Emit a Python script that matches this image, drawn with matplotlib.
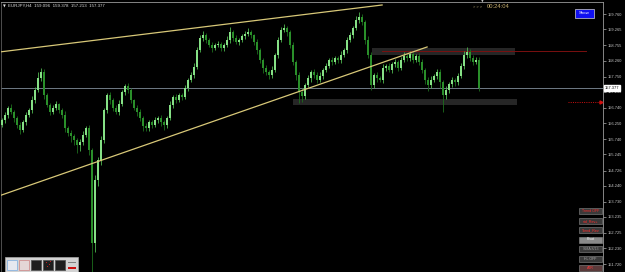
import numpy as np
import matplotlib.pyplot as plt
from matplotlib.patches import Rectangle

W, H = 625, 272

# EURJPY H4 closes (open = previous close)
first_open = 156.20
close = np.array([
    156.35, 156.51, 156.74, 156.61, 156.41, 156.19, 156.03, 156.29, 156.51, 156.67,
    156.99, 157.32, 157.70, 157.89, 157.15, 156.83, 156.61, 156.74, 156.86, 156.67,
    156.51, 156.09, 155.93, 155.84, 155.71, 155.55, 155.64, 155.87, 156.09, 155.39,
    152.40, 154.42, 155.06, 155.71, 156.67, 157.15, 156.99, 156.74, 156.61, 156.86,
    157.25, 157.44, 157.32, 156.99, 156.74, 156.61, 156.41, 156.16, 156.09, 156.29,
    156.19, 156.35, 156.41, 156.29, 156.19, 156.41, 156.83, 157.09, 156.99, 157.15,
    157.09, 157.38, 157.64, 157.80, 158.06, 158.60, 158.99, 159.08, 158.92, 158.76,
    158.67, 158.76, 158.79, 158.67, 158.76, 158.92, 159.18, 158.99, 158.86, 158.92,
    159.05, 159.12, 159.18, 159.08, 158.86, 158.60, 158.28, 158.02, 157.89, 157.80,
    157.96, 158.44, 158.92, 159.25, 159.31, 159.18, 158.76, 158.22, 157.80, 157.25,
    157.12, 157.48, 157.70, 157.89, 157.80, 157.64, 157.77, 157.96, 158.09, 158.28,
    158.22, 158.34, 158.28, 158.44, 158.60, 158.92, 159.08, 159.31, 159.57, 159.66,
    159.50, 158.92, 158.44, 157.48, 157.80, 157.70, 157.64, 158.02, 158.09, 157.96,
    158.15, 158.22, 158.02, 158.28, 158.41, 158.34, 158.47, 158.28, 158.41, 158.22,
    157.96, 157.64, 157.48, 157.64, 157.77, 157.89, 157.57, 157.15, 157.32, 157.51,
    157.64, 157.57, 157.77, 158.09, 158.44, 158.54, 158.34, 158.22, 158.28, 157.377,
])
upper_wick = np.array([
    0.08, 0.10, 0.06, 0.12, 0.05, 0.07, 0.09, 0.06, 0.10, 0.08,
    0.12, 0.09, 0.18, 0.13, 0.10, 0.07, 0.06, 0.09, 0.11, 0.05,
    0.08, 0.12, 0.06, 0.10, 0.07, 0.05, 0.09, 0.12, 0.08, 0.10,
    0.05, 0.15, 0.10, 0.12, 0.08, 0.07, 0.10, 0.06, 0.09, 0.12,
    0.08, 0.06, 0.10, 0.07, 0.05, 0.09, 0.08, 0.06, 0.11, 0.07,
    0.06, 0.09, 0.08, 0.10, 0.05, 0.07, 0.12, 0.06, 0.09, 0.08,
    0.07, 0.10, 0.06, 0.08, 0.12, 0.09, 0.10, 0.14, 0.08, 0.06,
    0.09, 0.07, 0.10, 0.06, 0.08, 0.12, 0.15, 0.07, 0.09, 0.06,
    0.08, 0.10, 0.12, 0.07, 0.05, 0.09, 0.06, 0.08, 0.10, 0.07,
    0.12, 0.08, 0.10, 0.09, 0.14, 0.06, 0.08, 0.10, 0.07, 0.09,
    0.12, 0.07, 0.10, 0.06, 0.09, 0.08, 0.11, 0.07, 0.09, 0.06,
    0.10, 0.07, 0.08, 0.12, 0.06, 0.09, 0.10, 0.08, 0.12, 0.16,
    0.10, 0.08, 0.12, 0.09, 0.07, 0.10, 0.08, 0.12, 0.06, 0.09,
    0.08, 0.10, 0.07, 0.09, 0.12, 0.06, 0.10, 0.08, 0.07, 0.09,
    0.10, 0.06, 0.08, 0.12, 0.07, 0.09, 0.10, 0.08, 0.11, 0.06,
    0.09, 0.07, 0.10, 0.08, 0.12, 0.15, 0.08, 0.10, 0.09, 0.10,
])
lower_wick = np.array([
    0.07, 0.09, 0.10, 0.06, 0.11, 0.08, 0.12, 0.07, 0.09, 0.06,
    0.08, 0.10, 0.07, 0.09, 0.12, 0.06, 0.10, 0.08, 0.07, 0.09,
    0.10, 0.12, 0.08, 0.20, 0.15, 0.25, 0.18, 0.10, 0.08, 0.15,
    1.10, 0.30, 0.20, 0.15, 0.10, 0.08, 0.12, 0.09, 0.07, 0.10,
    0.06, 0.08, 0.10, 0.09, 0.07, 0.12, 0.10, 0.15, 0.08, 0.09,
    0.10, 0.07, 0.09, 0.12, 0.15, 0.08, 0.06, 0.10, 0.09, 0.07,
    0.08, 0.06, 0.09, 0.07, 0.10, 0.08, 0.06, 0.09, 0.10, 0.07,
    0.12, 0.08, 0.06, 0.10, 0.09, 0.07, 0.08, 0.10, 0.06, 0.09,
    0.07, 0.09, 0.06, 0.08, 0.10, 0.12, 0.09, 0.15, 0.10, 0.12,
    0.09, 0.07, 0.10, 0.06, 0.08, 0.12, 0.10, 0.09, 0.15, 0.35,
    0.20, 0.10, 0.08, 0.12, 0.09, 0.10, 0.07, 0.09, 0.06, 0.08,
    0.09, 0.07, 0.10, 0.08, 0.06, 0.09, 0.07, 0.10, 0.08, 0.09,
    0.10, 0.12, 0.09, 0.15, 0.10, 0.12, 0.08, 0.09, 0.10, 0.07,
    0.09, 0.08, 0.10, 0.07, 0.06, 0.09, 0.08, 0.10, 0.07, 0.09,
    0.10, 0.12, 0.20, 0.09, 0.08, 0.10, 0.20, 0.54, 0.12, 0.10,
    0.09, 0.12, 0.08, 0.07, 0.10, 0.09, 0.08, 0.10, 0.07, 0.08,
])

price_ticks = [159.760, 159.265, 158.755, 158.260, 157.750, 157.255, 156.740,
               156.250, 155.740, 155.245, 154.726, 154.240, 153.730, 153.235,
               152.725, 152.230, 151.720]
last_price = 157.377
header = "EURJPY,H4  159.096  159.378  157.213  157.377"
countdown = "00:24:04"
buttons = ["Trend OFF", "std_Rev+", "Trend_Rev", "Pivot", "SMA 8/13", "HL OFF", "ATR"]

# chart objects: (bar index, price)
upper_trend = ([-0.7, 126.7], [158.54, 160.05])
lower_trend = ([-0.7, 141.7], [153.92, 158.70])
zone_top = (123.3, 171.0, 158.44, 158.67)
zone_bottom = (97.0, 171.7, 156.83, 157.03)
red_level = (126.7, 194.7, 158.57)
alert_level = (188.7, 199.8, 156.93)

ymin, ymax = 151.463, 160.146


def fx(x):
    return x / W


def fy(y):
    return 1 - y / H


fig = plt.figure(figsize=(W / 100, H / 100), dpi=100)
fig.patch.set_facecolor('black')
ax = fig.add_axes([1 / W, 0, 602 / W, 270 / H])
ax.set_facecolor('black')

opens = np.concatenate([[first_open], close[:-1]])
highs = np.maximum(opens, close) + upper_wick
lows = np.minimum(opens, close) - lower_wick
idx = np.arange(len(close))
bull = close >= opens

# zones behind candles
for x0, x1, p0, p1 in [zone_top, zone_bottom]:
    ax.add_patch(Rectangle((x0, p0), x1 - x0, p1 - p0, facecolor='#262626',
                           edgecolor='none', zorder=1))

ax.axhline(last_price, color='#6f7a86', lw=0.7, zorder=2)
ax.plot([red_level[0], red_level[1]], [red_level[2]] * 2, color='#7a1010', lw=0.7, zorder=2)

wick_col = np.where(bull, '#4fb84f', '#1d6e1d')
body_col = np.where(bull, '#86e086', '#2a8f2a')
ax.vlines(idx, lows, highs, colors=wick_col, lw=0.6, zorder=3)
body = close - opens
body = np.where(np.abs(body) < 0.02, 0.02, body)
ax.bar(idx, body, bottom=opens, width=0.7, color=body_col, linewidth=0, zorder=4)

ax.plot(*upper_trend, color='#d8c878', lw=0.9, zorder=5)
ax.plot(*lower_trend, color='#d8c878', lw=0.9, zorder=5)

ax.plot([alert_level[0], alert_level[1]], [alert_level[2]] * 2, color='#d01010',
        lw=0.7, ls=(0, (1, 1.3)), zorder=5)
ax.plot([alert_level[1]], [alert_level[2]], marker='>', ms=2.2, color='#d01010', zorder=5)

ax.set_xlim(-1 / 3, 601 / 3)
ax.set_ylim(ymin, ymax)

ax.set_yticks(price_ticks)
ax.set_yticklabels([f"{v:.3f}" for v in price_ticks], family='Liberation Sans')
ax.yaxis.tick_right()
ax.tick_params(axis='y', length=2, width=0.5, color='#b0b0b0', labelsize=2.9,
               labelcolor='#c8c8c8', pad=1.2)
ax.tick_params(axis='x', bottom=False, labelbottom=False)
for side in ['top', 'right', 'left']:
    ax.spines[side].set_color('#9a9a9a')
    ax.spines[side].set_linewidth(0.6)
ax.spines['left'].set_color('#5a5a5a')
ax.spines['bottom'].set_visible(False)

# current price tag
ax.text(1.003, last_price, f"{last_price:.3f}", transform=ax.get_yaxis_transform(),
        fontsize=2.9, family='Liberation Sans', color='black', va='center', ha='left',
        bbox=dict(boxstyle='square,pad=0.25', facecolor='white', edgecolor='white'),
        zorder=10, clip_on=False)

# header
fig.text(fx(3), fy(6), "\u25bc", fontsize=2.6, color='#e0e0e0', va='center')
fig.text(fx(8), fy(6), header, fontsize=3.2, color='#dcdcdc', va='center',
         family='Liberation Sans')

# countdown
fig.text(fx(473), fy(6.5), "> > >", fontsize=2.8, color='#b0a070', va='center',
         family='Liberation Sans')
fig.text(fx(487), fy(6.5), countdown, fontsize=4.2, color='#c8b070', va='center',
         family='Liberation Sans')
fig.text(fx(482), fy(1.5), "\u25bc", fontsize=2.6, color='#c0c0c0', va='center', ha='center')

# Show button
fig.patches.append(Rectangle((fx(575), fy(18)), 19 / W, 9 / H, transform=fig.transFigure,
                             facecolor='#1010f0', edgecolor='#d0d0d0', lw=0.5))
fig.text(fx(584.5), fy(13.5), "Show", fontsize=3.2, color='white', va='center',
         ha='center', family='Liberation Sans')

# indicator buttons
btn_tops = [208, 218, 227, 236.5, 246, 255.5, 265]
btn_face = ['#3a3a3a', '#3a3a3a', '#3a3a3a', '#8a8a8a', '#3a3a3a', '#3a3a3a', '#5a3a3a']
btn_text = ['#ff2a2a', '#ff2a2a', '#ff2a2a', '#ffffff', '#9a9a9a', '#b0b0b0', '#ff3a3a']
for lab, top, fc, tc in zip(buttons, btn_tops, btn_face, btn_text):
    fig.patches.append(Rectangle((fx(579), fy(top + 6)), 23 / W, 6 / H,
                                 transform=fig.transFigure, facecolor=fc,
                                 edgecolor='#8a8a8a', lw=0.4))
    fig.text(fx(590.5), fy(top + 3), lab, fontsize=2.6, color=tc, va='center',
             ha='center', family='Liberation Sans')

# drawing toolbar bottom-left
fig.patches.append(Rectangle((fx(5), fy(272)), 73 / W, 15 / H, transform=fig.transFigure,
                             facecolor='#d2d2d2', edgecolor='#a8a8a8', lw=0.5))
sq_x = [7, 19, 31, 43, 55, 67]
sq_face = ['#e6e8f0', '#e4d6d6', '#1e1e1e', '#1e1e1e', '#1e1e1e', '#d2d2d2']
sq_edge = ['#8ab4e0', '#d09090', '#555555', '#555555', '#555555', '#d2d2d2']
for x, fc, ec in zip(sq_x, sq_face, sq_edge):
    fig.patches.append(Rectangle((fx(x), fy(270)), 10 / W, 10 / H, transform=fig.transFigure,
                                 facecolor=fc, edgecolor=ec, lw=0.6))
fig.patches.append(Rectangle((fx(68), fy(263)), 8 / W, 1.2 / H, transform=fig.transFigure,
                             facecolor='#808080', edgecolor='none'))
fig.patches.append(Rectangle((fx(68), fy(268.5)), 8 / W, 1.5 / H, transform=fig.transFigure,
                             facecolor='#cc1010', edgecolor='none'))
for dx, dy in [(46, 263), (49, 265), (47, 267), (50, 262)]:
    fig.patches.append(Rectangle((fx(dx), fy(dy)), 1 / W, 1 / H, transform=fig.transFigure,
                                 facecolor='#c02020', edgecolor='none'))

fig.savefig('out.png', dpi=100, facecolor='black')
